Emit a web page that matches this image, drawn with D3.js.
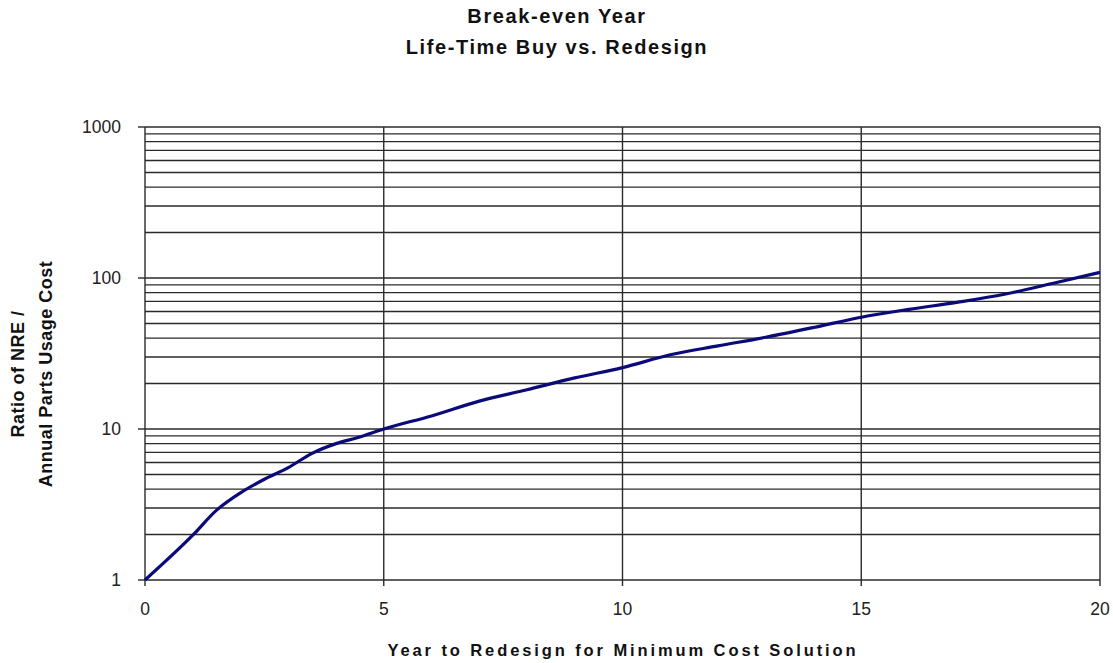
<!DOCTYPE html>
<html>
<head>
<meta charset="utf-8">
<script src="https://cdn.jsdelivr.net/npm/d3@7"></script>
<style>
  html, body { margin: 0; padding: 0; background: #fff; }
  svg { display: block; }
</style>
</head>
<body>
<svg id="chart" width="1113" height="663"></svg>
<script>
// Break-even ratio of NRE to annual parts usage cost, by year of redesign
const years  = [0, 1, 1.5, 2, 2.5, 3, 3.5, 4, 4.5, 5, 6, 7, 8, 9, 10, 11, 12, 13, 14, 15, 16, 17, 18, 19, 20];
const ratios = [1.0, 1.98, 2.9, 3.78, 4.65, 5.55, 6.9, 8.0, 8.85, 10, 12.2, 15.3, 18.2, 21.8, 25.5, 31, 35.5, 40.5, 47, 55, 62, 69, 78, 92, 109];

const xTicks = [0, 5, 10, 15, 20];
const yTicks = [1, 10, 100, 1000];
const titleLines = ["Break-even Year", "Life-Time Buy vs. Redesign"];
const xTitle = "Year to Redesign for Minimum Cost Solution";
const yTitleLines = ["Ratio of NRE /", "Annual Parts Usage Cost"];

const svg = d3.select("#chart");
const plotLeft = 145, plotRight = 1100, plotTop = 127, plotBottom = 580;

const x = d3.scaleLinear().domain([0, 20]).range([plotLeft, plotRight]);
const y = d3.scaleLog().domain([1, 1000]).range([plotBottom, plotTop]);

// minor + major horizontal grid
const gridVals = [];
for (let d = 1; d < 1000; d *= 10) for (let k = 1; k <= 9; k++) gridVals.push(d * k);
gridVals.push(1000);

const grid = svg.append("g");
grid.selectAll("line.h").data(gridVals).join("line")
  .attr("class", "h")
  .attr("x1", plotLeft).attr("x2", plotRight)
  .attr("y1", d => y(d)).attr("y2", d => y(d))
  .attr("stroke", "#2a2a2a").attr("stroke-width", 1.4);

// vertical grid at x ticks, extending slightly below the baseline
grid.selectAll("line.v").data(xTicks).join("line")
  .attr("class", "v")
  .attr("x1", d => x(d)).attr("x2", d => x(d))
  .attr("y1", plotTop).attr("y2", plotBottom + 6)
  .attr("stroke", "#2a2a2a").attr("stroke-width", 1.4);

// y-axis ticks
grid.selectAll("line.yt").data(yTicks).join("line")
  .attr("class", "yt")
  .attr("x1", plotLeft - 7).attr("x2", plotLeft)
  .attr("y1", d => y(d)).attr("y2", d => y(d))
  .attr("stroke", "#2a2a2a").attr("stroke-width", 1.4);

// tick labels
svg.append("g").selectAll("text").data(yTicks).join("text")
  .attr("x", 121).attr("y", d => y(d) + 6)
  .attr("text-anchor", "end")
  .attr("font-family", "Liberation Sans, Arial, sans-serif")
  .attr("font-size", 17.5).attr("fill", "#222")
  .text(d => d);

svg.append("g").selectAll("text").data(xTicks).join("text")
  .attr("x", d => x(d)).attr("y", 615)
  .attr("text-anchor", "middle")
  .attr("font-family", "Liberation Sans, Arial, sans-serif")
  .attr("font-size", 17.5).attr("fill", "#222")
  .text(d => d);

// data line
const line = d3.line()
  .x((d, i) => x(years[i]))
  .y(d => y(d))
  .curve(d3.curveMonotoneX);
svg.append("path").datum(ratios)
  .attr("d", line)
  .attr("fill", "none")
  .attr("stroke", "#0a0a78")
  .attr("stroke-width", 3.2)
  .attr("stroke-linejoin", "round");

// titles
svg.append("g").selectAll("text").data(titleLines).join("text")
  .attr("x", 557).attr("y", (d, i) => 23 + i * 31)
  .attr("text-anchor", "middle")
  .attr("font-family", "Liberation Sans, Arial, sans-serif")
  .attr("font-weight", "bold").attr("font-size", 20)
  .attr("letter-spacing", 1.6).attr("fill", "#111")
  .text(d => d);

svg.append("text")
  .attr("x", 623).attr("y", 656)
  .attr("text-anchor", "middle")
  .attr("font-family", "Liberation Sans, Arial, sans-serif")
  .attr("font-weight", "bold").attr("font-size", 16.5)
  .attr("letter-spacing", 2.9).attr("fill", "#111")
  .text(xTitle);

svg.append("g").selectAll("text").data(yTitleLines).join("text")
  .attr("transform", (d, i) => `translate(${24 + i * 28},${374}) rotate(-90)`)
  .attr("text-anchor", "middle")
  .attr("font-family", "Liberation Sans, Arial, sans-serif")
  .attr("font-weight", "bold").attr("font-size", 18)
  .attr("letter-spacing", 0.5).attr("fill", "#111")
  .text(d => d);
</script>
</body>
</html>
